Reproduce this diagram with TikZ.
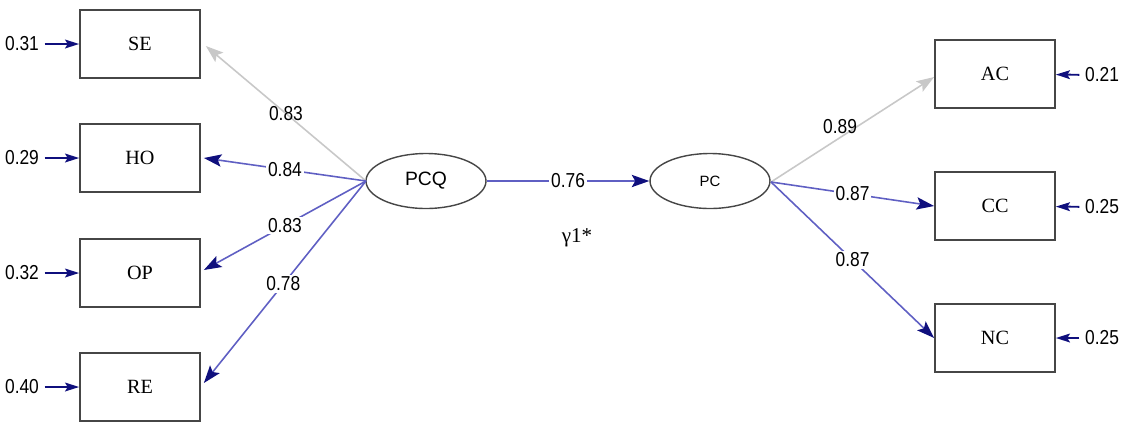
\documentclass[tikz,border=0pt]{standalone}
\usepackage{fontspec}
\setmainfont{Liberation Serif}
\setsansfont{Liberation Sans}
\usetikzlibrary{arrows.meta,shapes.geometric}
\definecolor{pathblue}{RGB}{95,95,195}
\definecolor{tipnavy}{RGB}{15,15,125}
\definecolor{pathgray}{RGB}{200,200,200}
\definecolor{boxline}{RGB}{70,70,70}
\newcommand{\nrw}[1]{\scalebox{0.86}[1]{#1}}
\begin{document}
\begin{tikzpicture}[x=0.02cm,y=-0.02cm,
  obsbox/.style={draw=boxline,line width=1pt,minimum width=2.4cm,minimum height=1.36cm,inner sep=0pt,font=\fontsize{11.5}{12}\selectfont},
  latent/.style={ellipse,draw=boxline,line width=0.8pt,minimum width=2.4cm,minimum height=1.1cm,inner sep=0pt,font=\sffamily},
  coef/.style={fill=white,inner sep=1pt,font=\sffamily\fontsize{11.5}{12}\selectfont},
  errlab/.style={inner sep=1pt,font=\sffamily\fontsize{11.5}{12}\selectfont},
  loadblue/.style={-{Stealth[length=10pt,width=7pt,inset=2pt,color=tipnavy]},draw=pathblue,line width=0.9pt},
  loadgray/.style={-{Stealth[length=10pt,width=7pt,inset=2pt]},draw=pathgray,line width=0.9pt},
  errarrow/.style={-{Stealth[length=8pt,width=5pt,inset=1.5pt]},draw=tipnavy,line width=1.1pt,shorten <=2pt}]
\useasboundingbox (0,0) rectangle (1125,424);

% observed indicators of PCQ
\node[obsbox] (SE) at (140,44)  {SE};
\node[obsbox] (HO) at (140,158) {HO};
\node[obsbox] (OP) at (140,273) {OP};
\node[obsbox] (RE) at (140,387) {RE};

% observed indicators of PC
\node[obsbox] (AC) at (995,74)  {AC};
\node[obsbox] (CC) at (995,206) {CC};
\node[obsbox] (NC) at (995,338) {NC};

% latent variables
\node[latent,font=\sffamily\fontsize{11}{12}\selectfont] (PCQ) at (426,181) {PCQ};
\node[latent,font=\sffamily\fontsize{8.5}{10}\selectfont] (PC) at (710,181) {PC};

% points where the loadings leave the ellipses
\coordinate (pcqL) at (366,181);
\coordinate (pcR) at (771,182);

% error variances
\node[errlab] (eSE) at (22,44)  {\nrw{0.31}};
\node[errlab] (eHO) at (22,158) {\nrw{0.29}};
\node[errlab] (eOP) at (22,273) {\nrw{0.32}};
\node[errlab] (eRE) at (22,387) {\nrw{0.40}};
\node[errlab] (eAC) at (1102,75)  {\nrw{0.21}};
\node[errlab] (eCC) at (1102,207) {\nrw{0.25}};
\node[errlab] (eNC) at (1102,338) {\nrw{0.25}};
\draw[errarrow] (eSE) -- (SE);
\draw[errarrow] (eHO) -- (HO);
\draw[errarrow] (eOP) -- (OP);
\draw[errarrow] (eRE) -- (RE);
\draw[errarrow] (eAC) -- (AC);
\draw[errarrow] (eCC) -- (CC);
\draw[errarrow] (eNC) -- (NC);

% loadings of PCQ
\draw[loadgray] (pcqL) -- ([xshift=0.1cm,yshift=-0.04cm]SE.east) node[coef,pos=0.5,fill=none] {\nrw{0.83}};
\draw[loadblue] (pcqL) -- ([xshift=0.06cm]HO.east) node[coef,pos=0.5] {\nrw{0.84}};
\draw[loadblue] (pcqL) -- ([xshift=0.06cm,yshift=0.06cm]OP.east) node[coef,pos=0.5] {\nrw{0.83}};
\draw[loadblue] (pcqL) -- ([xshift=0.06cm,yshift=0.08cm]RE.east) node[coef,pos=0.51] {\nrw{0.78}};

% structural path
\draw[loadblue] (PCQ) -- (PC) node[coef,pos=0.5] {\nrw{0.76}};
\node[font=\fontsize{12}{12}\selectfont] (gamma) at (577,238) {γ1*};

% loadings of PC
\draw[loadgray] (pcR) -- ([yshift=-0.06cm]AC.west) node[coef,pos=0.5,fill=none,above left=-4pt] {\nrw{0.89}};
\draw[loadblue] (pcR) -- (CC.west) node[coef,pos=0.5] {\nrw{0.87}};
\draw[loadblue] (pcR) -- (NC.west) node[coef,pos=0.5] {\nrw{0.87}};
\end{tikzpicture}
\end{document}
